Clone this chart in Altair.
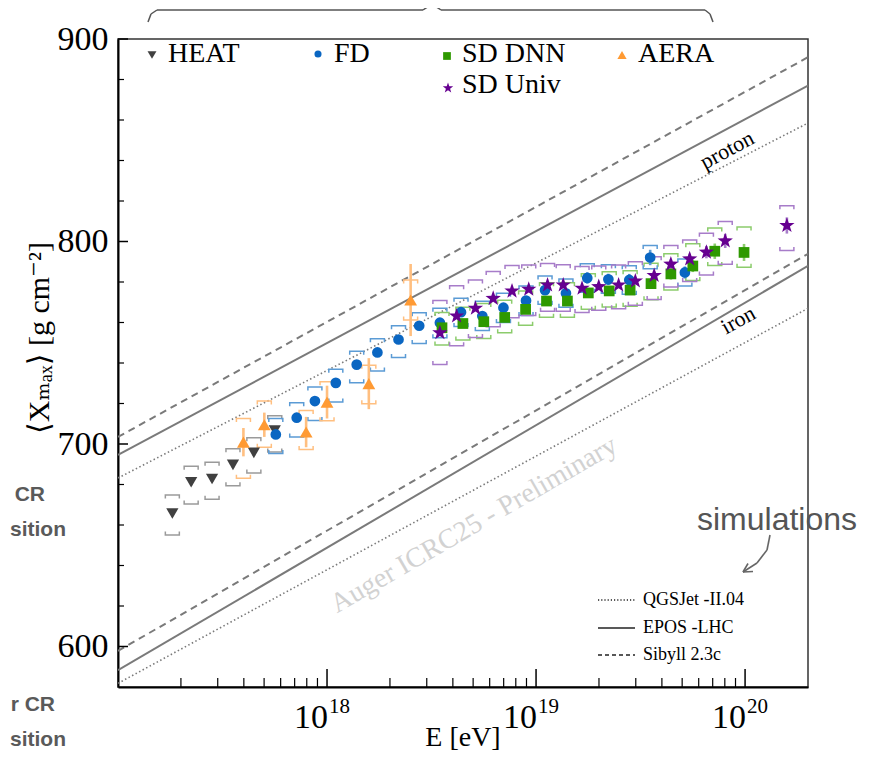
import altair as alt
import pandas as pd

# ---------------- values ----------------
series_names = ["HEAT", "FD", "SD DNN", "AERA", "SD Univ"]

heat_lgE = [17.26, 17.35, 17.45, 17.55, 17.65, 17.75]
heat_X = [665.7, 681.1, 682.7, 689.7, 695.6, 706.7]
heat_stat = [1.5, 1.5, 1.5, 1.5, 1.5, 1.5]
heat_sys_up = [674.8, 689.0, 691.0, 697.6, 703.1, 714.0]
heat_sys_lo = [655.1, 670.4, 672.7, 679.4, 685.7, 696.0]

fd_lgE = [17.755, 17.855, 17.942, 18.042, 18.142, 18.241, 18.342, 18.441, 18.54, 18.641,
          18.743, 18.844, 18.952, 19.043, 19.143, 19.245, 19.346, 19.446, 19.546, 19.712]
fd_X = [704.7, 713.0, 721.2, 730.2, 739.2, 745.2, 751.6, 758.4, 759.9, 765.1,
        763.2, 767.3, 770.8, 776.0, 774.4, 782.0, 781.3, 781.0, 792.1, 784.7]
fd_stat = [1.0, 1.0, 1.0, 1.0, 1.0, 1.0, 1.0, 1.0, 1.2, 1.3,
           1.4, 1.5, 1.7, 2.0, 2.2, 2.8, 2.8, 3.0, 3.8, 3.0]
fd_sys_up = [712.6, 720.4, 728.2, 736.9, 745.8, 752.0, 758.4, 764.8, 767.0, 772.0,
             770.5, 774.5, 778.0, 783.0, 781.5, 789.0, 788.5, 788.0, 798.0, 791.4]
fd_sys_lo = [695.3, 703.4, 711.6, 720.7, 730.2, 736.1, 742.7, 749.6, 752.5, 758.0,
             756.0, 760.0, 763.5, 769.0, 767.5, 775.0, 774.5, 774.0, 786.5, 778.0]

dnn_lgE = [18.55, 18.65, 18.75, 18.85, 18.95, 19.05, 19.15, 19.25, 19.35, 19.45,
           19.55, 19.645, 19.75, 19.855, 19.995]
dnn_X = [757.4, 759.5, 760.4, 762.5, 766.5, 770.6, 770.6, 774.6, 775.6, 776.0,
         779.2, 784.0, 787.9, 795.2, 794.6]
dnn_stat = [1.5, 1.5, 1.5, 1.5, 1.5, 1.8, 1.8, 2.0, 2.0, 2.2, 2.5, 2.8, 3.0, 3.8, 4.2]
dnn_sys_up = [765.0, 767.5, 769.4, 771.0, 775.5, 779.6, 779.6, 784.1, 785.1, 785.5,
              789.2, 794.0, 798.9, 806.7, 807.1]
dnn_sys_lo = [748.9, 751.3, 752.1, 755.0, 758.7, 762.6, 762.6, 766.6, 767.6, 768.0,
              771.2, 776.0, 780.7, 788.2, 787.3]

aera_lgE = [17.60, 17.70, 17.90, 18.00, 18.20, 18.40]
aera_X = [700.9, 709.5, 705.9, 720.7, 729.8, 771.1]
aera_stat = [7.0, 6.0, 7.5, 8.1, 12.6, 17.8]
aera_sys_up = [712.6, 721.2, 716.6, 730.7, 738.9, 781.0]
aera_sys_lo = [683.1, 698.4, 697.3, 711.5, 719.9, 761.2]

univ_lgE = [18.54, 18.62, 18.71, 18.795, 18.885, 18.965, 19.055, 19.13, 19.22, 19.30,
            19.395, 19.475, 19.565, 19.645, 19.735, 19.815, 19.905, 20.20]
univ_X = [754.9, 763.2, 767.0, 771.9, 775.5, 776.4, 778.5, 778.5, 776.9, 777.7,
          778.5, 780.5, 783.2, 788.8, 791.4, 794.7, 800.3, 807.9]
univ_stat = [1.0, 1.0, 1.0, 1.0, 1.0, 1.0, 1.0, 1.0, 1.2, 1.3,
             1.5, 1.7, 2.0, 2.3, 2.6, 3.0, 3.5, 4.0]
univ_sys_up = [770.9, 778.2, 781.0, 785.2, 788.1, 788.4, 789.1, 788.5, 787.6, 787.9,
               788.4, 790.0, 792.5, 798.0, 800.8, 804.1, 809.9, 817.7]
univ_sys_lo = [739.2, 748.5, 752.6, 757.9, 762.4, 763.4, 765.5, 765.5, 764.9, 766.0,
               766.8, 768.5, 771.4, 777.5, 780.2, 783.5, 788.8, 795.6]

# simulation lines: <Xmax> at E = 1e17 and E = 2e20
model_names = ["QGSJet -II.04", "EPOS -LHC", "Sibyll 2.3c"]
model_E = [1e17, 2e20]
proton_lo = [683.2, 694.6, 703.5]
proton_hi = [858.5, 877.0, 891.0]
iron_lo = [581.8, 588.3, 597.8]
iron_hi = [767.0, 788.0, 793.9]

# axis ticks
y_major = [600, 700, 800, 900]
y_minor = [620, 640, 660, 680, 720, 740, 760, 780, 820, 840, 860, 880]
x_major = [1e18, 1e19, 1e20]
x_exps = ["18", "19", "20"]
x_minor = [m * 10.0 ** d for d in (17, 18, 19) for m in range(2, 10)]

# ---------------- styles ----------------
marker_colors = ["#404040", "#0a66c2", "#2e9900", "#ff9a33", "#660090"]
bracket_colors = ["#9a9a9a", "#5b9bd5", "#8ccc6c", "#ffbf80", "#a77cc9"]
STAR = ("M0,-1L0.235,-0.324L0.951,-0.309L0.380,0.124L0.588,0.809L0,0.4"
        "L-0.588,0.809L-0.380,0.124L-0.951,-0.309L-0.235,-0.324Z")
marker_shapes = ["triangle-down", "circle", "square", "triangle-up", STAR]
marker_sizes = [150, 115, 115, 165, 260]
legend_sizes = [80, 50, 60, 85, 120]
UPB = "M-1,0.5L-1,0L1,0L1,0.5"
LOB = "M-1,-0.5L-1,0L1,0L1,-0.5"
SERIF = "'Liberation Serif', 'DejaVu Serif', serif"
SANS = "'Liberation Sans', Arial, sans-serif"

W, H = 690, 648


def table(name, lgE, X, stat, up, lo):
    return pd.DataFrame({
        "series": name,
        "E": [10 ** v for v in lgE],
        "X": X,
        "s_lo": [x - s for x, s in zip(X, stat)],
        "s_hi": [x + s for x, s in zip(X, stat)],
        "sys_up": up,
        "sys_lo": lo,
    })


pts = pd.concat([
    table("HEAT", heat_lgE, heat_X, heat_stat, heat_sys_up, heat_sys_lo),
    table("FD", fd_lgE, fd_X, fd_stat, fd_sys_up, fd_sys_lo),
    table("SD DNN", dnn_lgE, dnn_X, dnn_stat, dnn_sys_up, dnn_sys_lo),
    table("AERA", aera_lgE, aera_X, aera_stat, aera_sys_up, aera_sys_lo),
    table("SD Univ", univ_lgE, univ_X, univ_stat, univ_sys_up, univ_sys_lo),
], ignore_index=True)

mrows = []
for i, m in enumerate(model_names):
    for prim, lo, hi in (("proton", proton_lo[i], proton_hi[i]), ("iron", iron_lo[i], iron_hi[i])):
        mrows.append({"model": m, "primary": prim, "E": model_E[0], "X": lo})
        mrows.append({"model": m, "primary": prim, "E": model_E[1], "X": hi})
models = pd.DataFrame(mrows)

xs = alt.Scale(type="log", domain=[1e17, 2e20], nice=False)
ys = alt.Scale(domain=[580, 900], nice=False, zero=False)
xax = alt.Axis(labels=False, ticks=False, grid=False, title=None,
               domainColor="black", domainWidth=2)
yax = alt.Axis(values=y_major, ticks=False, grid=False, title=None,
               labelFont=SERIF, labelFontSize=34, labelColor="black",
               labelPadding=10, domainColor="black", domainWidth=2)


def XE(f):
    return alt.X(f"{f}:Q", scale=xs, axis=xax)


def YE(f):
    return alt.Y(f"{f}:Q", scale=ys, axis=yax)


one = pd.DataFrame({"k": [0]})
layers = []

# simulation lines
line_style = {"QGSJet -II.04": (1.6, [1.5, 2.5]), "EPOS -LHC": (2.0, None), "Sibyll 2.3c": (2.0, [7, 5])}
for m in model_names:
    w, d = line_style[m]
    kw = dict(clip=True, color="#7a7a7a", strokeWidth=w)
    if d:
        kw["strokeDash"] = d
    layers.append(alt.Chart(models).transform_filter(alt.datum.model == m)
                  .mark_line(**kw).encode(x=XE("E"), y=YE("X"), detail="primary:N"))

bscale = alt.Scale(domain=series_names, range=bracket_colors)
mscale = alt.Scale(domain=series_names, range=marker_colors)

# systematic brackets
for field, shp in (("sys_up", UPB), ("sys_lo", LOB)):
    layers.append(alt.Chart(pts).mark_point(shape=shp, filled=False, size=196, strokeWidth=1.5, opacity=1)
                  .encode(x=XE("E"), y=YE(field), color=alt.Color("series:N", scale=bscale, legend=None)))

# statistical error bars
layers.append(alt.Chart(pts).mark_rule(strokeWidth=2.6)
              .encode(x=XE("E"), y=YE("s_lo"), y2="s_hi:Q",
                      color=alt.Color("series:N", scale=mscale, legend=None)))

# markers
for idx in [0, 3, 1, 2, 4]:
    s = series_names[idx]
    layers.append(alt.Chart(pts).transform_filter(alt.datum.series == s)
                  .mark_point(shape=marker_shapes[idx], filled=True, size=marker_sizes[idx],
                              color=marker_colors[idx], opacity=1, strokeWidth=0)
                  .encode(x=XE("E"), y=YE("X")))

# inward ticks
layers.append(alt.Chart(pd.DataFrame({"v": y_major})).mark_rule(color="black", strokeWidth=1.5)
              .encode(y=YE("v"), x=alt.value(0), x2=alt.value(10)))
layers.append(alt.Chart(pd.DataFrame({"v": y_minor})).mark_rule(color="black", strokeWidth=1.2)
              .encode(y=YE("v"), x=alt.value(0), x2=alt.value(6)))
layers.append(alt.Chart(pd.DataFrame({"v": x_major})).mark_rule(color="black", strokeWidth=1.5)
              .encode(x=XE("v"), y=alt.value(H), y2=alt.value(H - 18)))
layers.append(alt.Chart(pd.DataFrame({"v": x_minor})).mark_rule(color="black", strokeWidth=1.2)
              .encode(x=XE("v"), y=alt.value(H), y2=alt.value(H - 9)))

# x tick labels 10^n
xl = pd.DataFrame({"v": x_major, "e": x_exps})
layers.append(alt.Chart(xl).mark_text(text="10", align="right", baseline="alphabetic", font=SERIF,
                                      fontSize=34, color="black", dx=1)
              .encode(x=XE("v"), y=alt.value(H + 41)))
layers.append(alt.Chart(xl).mark_text(align="left", baseline="alphabetic", font=SERIF,
                                      fontSize=21, color="black", dx=2)
              .encode(x=XE("v"), y=alt.value(H + 26), text="e:N"))

# axis titles
layers.append(alt.Chart(one).mark_text(text="E [eV]", font=SERIF, fontSize=28, color="black",
                                       baseline="alphabetic")
              .encode(x=alt.value(W / 2), y=alt.value(H + 59)))
layers.append(alt.Chart(one).mark_text(text="\u27e8X\u2098\u2090\u2093\u27e9 [g cm\u207b\u00b2]", font=SERIF,
                                       fontSize=30, color="black", angle=270)
              .encode(x=alt.value(-78), y=alt.value(299)))

# top legend
leg_mx = [34, 200, 329, 504, 330]
leg_my = [16, 15, 17, 16, 49]
leg_tx = [50, 216, 344, 520, 344]
leg_ty = [23, 23, 23, 23, 54]
for i, s in enumerate(series_names):
    layers.append(alt.Chart(one).mark_point(shape=marker_shapes[i], filled=True, size=legend_sizes[i],
                                            color=marker_colors[i], opacity=1, strokeWidth=0)
                  .encode(x=alt.value(leg_mx[i]), y=alt.value(leg_my[i])))
    layers.append(alt.Chart(one).mark_text(text=s, align="left", baseline="alphabetic", font=SERIF,
                                           fontSize=28, color="black")
                  .encode(x=alt.value(leg_tx[i]), y=alt.value(leg_ty[i])))

# simulation legend (bottom right)
sim_y = [561, 589, 616]
for i, m in enumerate(model_names):
    w, d = line_style[m]
    kw = dict(color="#222222", strokeWidth=1.5)
    if d:
        kw["strokeDash"] = [1.2, 2.0] if i == 0 else [4, 3]
    layers.append(alt.Chart(one).mark_rule(**kw)
                  .encode(x=alt.value(480), x2=alt.value(517), y=alt.value(sim_y[i])))
    layers.append(alt.Chart(one).mark_text(text=m, align="left", font=SERIF, fontSize=18, color="black")
                  .encode(x=alt.value(525), y=alt.value(sim_y[i])))

# proton / iron labels and watermark
layers.append(alt.Chart(pd.DataFrame({"E": [10 ** 19.914], "X": [845.2]}))
              .mark_text(text="proton", font=SERIF, fontSize=22, color="black", angle=332)
              .encode(x=XE("E"), y=YE("X")))
layers.append(alt.Chart(pd.DataFrame({"E": [10 ** 19.967], "X": [761.2]}))
              .mark_text(text="iron", font=SERIF, fontSize=22, color="black", angle=331)
              .encode(x=XE("E"), y=YE("X")))
layers.append(alt.Chart(pd.DataFrame({"E": [10 ** 18.703], "X": [660.0]}))
              .mark_text(text="Auger ICRC25 - Preliminary", font=SERIF, fontSize=28, color="#d2d2d2",
                         angle=330)
              .encode(x=XE("E"), y=YE("X")))

# slide annotations around the plot
layers.append(alt.Chart(one).mark_text(text="simulations", font=SANS, fontSize=32, color="#555555",
                                       align="left")
              .encode(x=alt.value(579), y=alt.value(481)))
arrow = [(652, 496, 649, 511), (649, 511, 639, 524), (639, 524, 625, 533),
         (625, 533, 635, 532.5), (625, 533, 630, 524.5)]
for a, b, c, d in arrow:
    layers.append(alt.Chart(one).mark_rule(color="#666666", strokeWidth=1.6)
                  .encode(x=alt.value(a), y=alt.value(b), x2=alt.value(c), y2=alt.value(d)))
brace = [(30, -17, 33, -25), (33, -25, 39, -29), (39, -29, 305, -29), (305, -29, 311, -33),
         (311, -33, 314, -38), (314, -38, 317, -33), (317, -33, 323, -29), (323, -29, 587, -29),
         (587, -29, 592, -25), (592, -25, 595, -17)]
for a, b, c, d in brace:
    layers.append(alt.Chart(one).mark_rule(color="#555555", strokeWidth=1.5)
                  .encode(x=alt.value(a), y=alt.value(b), x2=alt.value(c), y2=alt.value(d)))
side = [("CR", -73, 456), ("sition", -52, 491), ("r CR", -63, 666), ("sition", -52, 701)]
for t, a, b in side:
    layers.append(alt.Chart(one).mark_text(text=t, font=SANS, fontSize=21, fontWeight="bold",
                                           color="#5a5a5a", align="right")
                  .encode(x=alt.value(a), y=alt.value(b)))

chart = (alt.layer(*layers)
         .properties(width=W, height=H, autosize="none",
                     padding={"left": 110, "top": 31, "right": 53, "bottom": 66})
         .configure_view(stroke="#333333", strokeWidth=1.5))

chart.save("out.html", embed_options={"renderer": "svg", "actions": False})
